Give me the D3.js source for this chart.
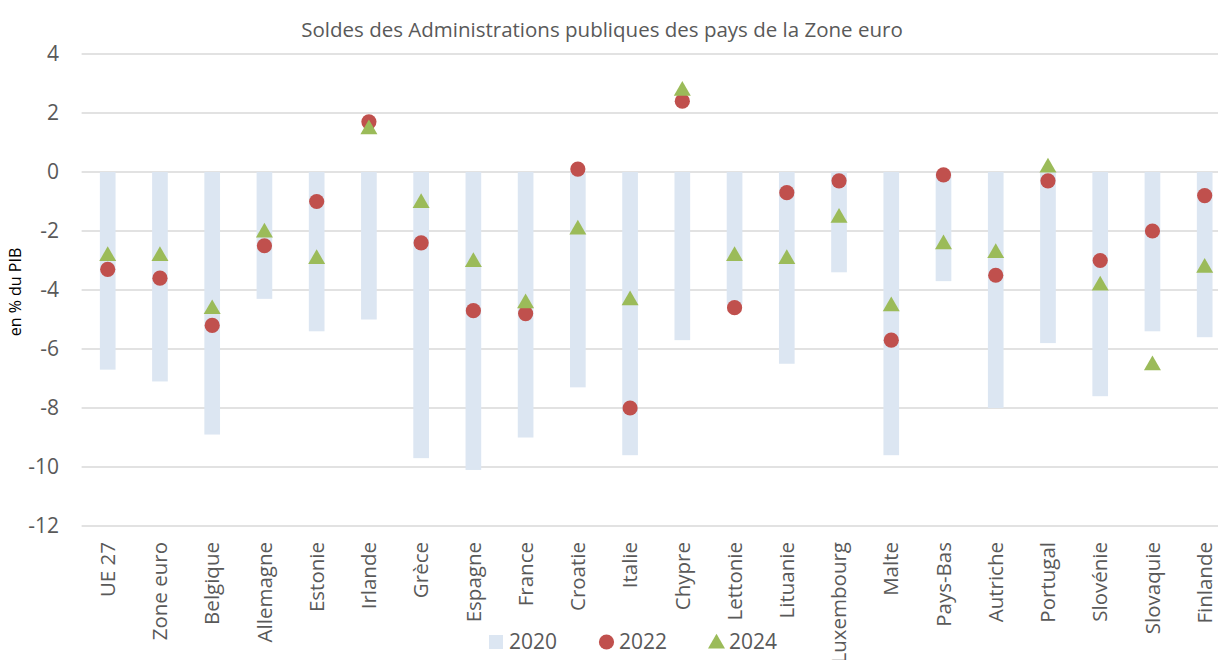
<!DOCTYPE html>
<meta charset="utf-8">
<style>
    body { margin: 0; background: #fff; }
    text { font-family: "Open Sans", sans-serif; fill: #595959; }
    .grid line { stroke: #d9d9d9; stroke-width: 1.5px; }
</style>
<svg width="1218" height="660"></svg>
<script src="https://d3js.org/d3.v7.min.js"></script>
<script>

    var pays = ["UE 27", "Zone euro", "Belgique", "Allemagne", "Estonie", "Irlande", "Grèce", "Espagne",
        "France", "Croatie", "Italie", "Chypre", "Lettonie", "Lituanie", "Luxembourg", "Malte",
        "Pays-Bas", "Autriche", "Portugal", "Slovénie", "Slovaquie", "Finlande"];

    var solde2020 = [-6.7, -7.1, -8.9, -4.3, -5.4, -5.0, -9.7, -10.1, -9.0, -7.3, -9.6, -5.7,
        -4.5, -6.5, -3.4, -9.6, -3.7, -8.0, -5.8, -7.6, -5.4, -5.6];
    var solde2022 = [-3.3, -3.6, -5.2, -2.5, -1.0, 1.7, -2.4, -4.7, -4.8, 0.1, -8.0, 2.4,
        -4.6, -0.7, -0.3, -5.7, -0.1, -3.5, -0.3, -3.0, -2.0, -0.8];
    var solde2024 = [-2.8, -2.8, -4.6, -2.0, -2.9, 1.5, -1.0, -3.0, -4.4, -1.9, -4.3, 2.8,
        -2.8, -2.9, -1.5, -4.5, -2.4, -2.7, 0.2, -3.8, -6.5, -3.2];

    var yTicks = [4, 2, 0, -2, -4, -6, -8, -10, -12];

    var svg = d3.select("svg"),
        mLeft = 81.6, mRight = 1230.8, mTop = 54, mBottom = 526;

    var x = d3.scaleBand().domain(pays).range([mLeft, mRight]);
    var y = d3.scaleLinear().domain([-12, 4]).range([mBottom, mTop]);
    var barW = x.bandwidth() * 0.3;

    // grille
    svg.append("g").attr("class", "grid")
        .selectAll("line")
        .data(yTicks)
        .enter().append("line")
        .attr("x1", mLeft).attr("x2", mRight)
        .attr("y1", function (d) { return y(d); })
        .attr("y2", function (d) { return y(d); });

    // graduations
    svg.append("g")
        .selectAll("text")
        .data(yTicks)
        .enter().append("text")
        .attr("x", 59)
        .attr("y", function (d) { return y(d); })
        .attr("dy", "0.35em")
        .attr("text-anchor", "end")
        .style("font-size", "21px")
        .text(function (d) { return d; });

    // 2020 : barres
    svg.append("g")
        .selectAll("rect")
        .data(pays)
        .enter().append("rect")
        .attr("x", function (d) { return x(d) + (x.bandwidth() - barW) / 2; })
        .attr("width", barW)
        .attr("y", function (d, i) { return y(Math.max(0, solde2020[i])); })
        .attr("height", function (d, i) { return Math.abs(y(solde2020[i]) - y(0)); })
        .attr("fill", "#dce6f2");

    // 2022 : ronds
    svg.append("g")
        .selectAll("circle")
        .data(pays)
        .enter().append("circle")
        .attr("cx", function (d) { return x(d) + x.bandwidth() / 2; })
        .attr("cy", function (d, i) { return y(solde2022[i]); })
        .attr("r", 7.6)
        .attr("fill", "#c0504d");

    // 2024 : triangles
    var tri = d3.symbol().type(d3.symbolTriangle).size(125);
    svg.append("g")
        .selectAll("path")
        .data(pays)
        .enter().append("path")
        .attr("d", tri)
        .attr("transform", function (d, i) {
            return "translate(" + (x(d) + x.bandwidth() / 2) + "," + (y(solde2024[i]) + 1.5) + ")";
        })
        .attr("fill", "#9bbb59");

    // catégories
    svg.append("g")
        .selectAll("text")
        .data(pays)
        .enter().append("text")
        .attr("transform", function (d) {
            return "translate(" + (x(d) + x.bandwidth() / 2) + ",542) rotate(-90)";
        })
        .attr("dy", "0.35em")
        .attr("text-anchor", "end")
        .style("font-size", "20.5px")
        .text(function (d) { return d; });

    // titres
    svg.append("text")
        .attr("x", 602).attr("y", 37)
        .attr("text-anchor", "middle")
        .style("font-size", "20.5px")
        .text("Soldes des Administrations publiques des pays de la Zone euro");

    svg.append("text")
        .attr("transform", "translate(21,292) rotate(-90)")
        .attr("text-anchor", "middle")
        .style("font-size", "16px")
        .style("fill", "#000")
        .text("en % du PIB");

    // légende
    var lg = svg.append("g").attr("transform", "translate(0,642)");
    lg.append("rect").attr("x", 489).attr("y", -7).attr("width", 14).attr("height", 14).attr("fill", "#dce6f2");
    lg.append("text").attr("x", 509).attr("dy", "0.35em").style("font-size", "21px").text("2020");
    lg.append("circle").attr("cx", 606.5).attr("r", 7.6).attr("fill", "#c0504d");
    lg.append("text").attr("x", 619).attr("dy", "0.35em").style("font-size", "21px").text("2022");
    lg.append("path").attr("d", tri).attr("transform", "translate(716.5,1.5)").attr("fill", "#9bbb59");
    lg.append("text").attr("x", 729).attr("dy", "0.35em").style("font-size", "21px").text("2024");

</script>
